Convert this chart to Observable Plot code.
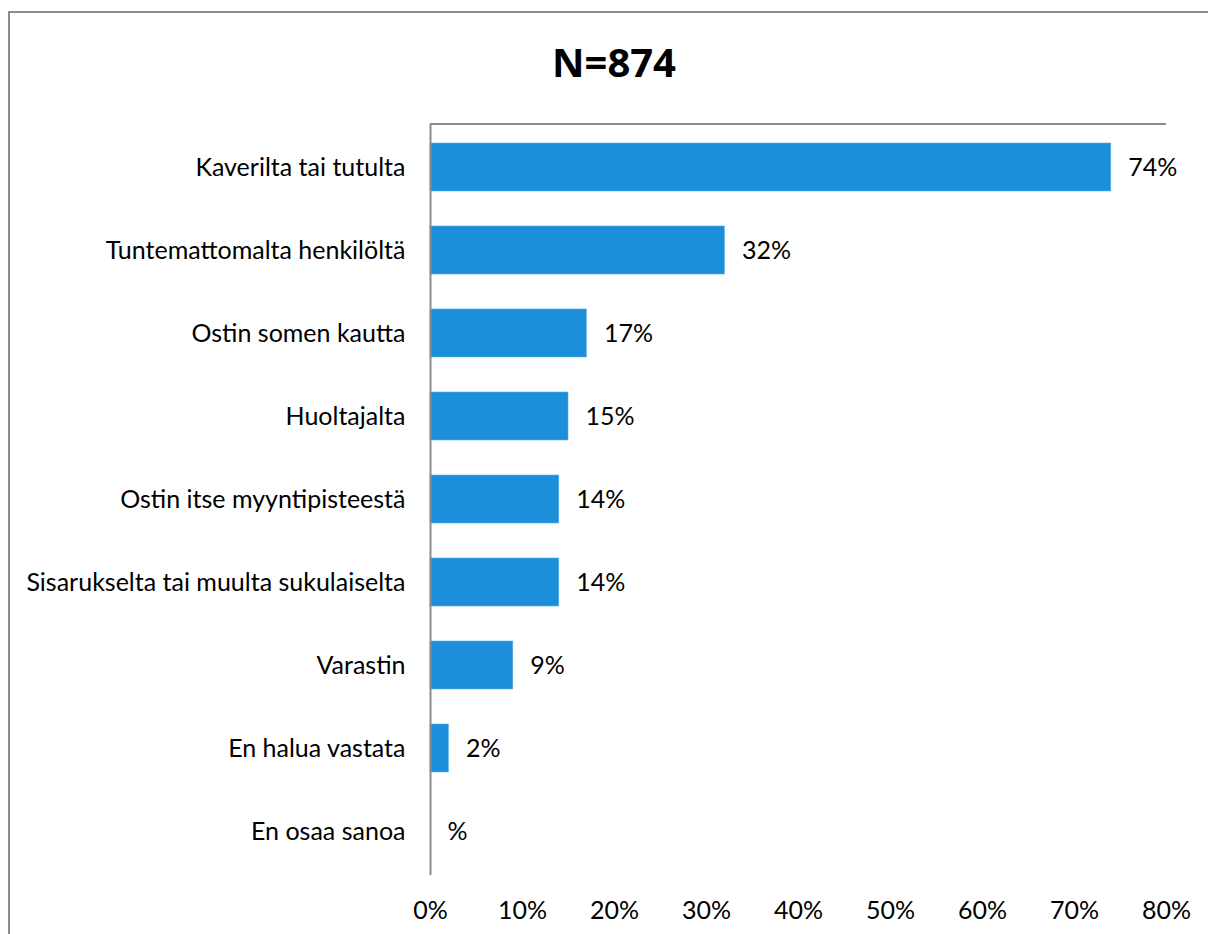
<!DOCTYPE html>
<html>
<head>
<meta charset="utf-8">
<script src="https://cdn.jsdelivr.net/npm/d3@7"></script>
<script src="https://cdn.jsdelivr.net/npm/@observablehq/plot@0.6"></script>
<style>
  html, body { margin: 0; padding: 0; background: #fff; }
  #wrap { position: relative; width: 1208px; height: 934px; overflow: hidden; font-family: Lato, "Open Sans", sans-serif; }
  #border { position: absolute; left: 8px; top: 11px; width: 1300px; height: 1000px; border-left: 2px solid #8c8c8c; border-top: 2px solid #8c8c8c; }
  #title { position: absolute; left: 0; top: 22px; width: 1228px; height: 80px; text-align: center; font-family: "Open Sans", sans-serif; font-weight: bold; font-size: 40px; line-height: 80px; color: #000; }
  #chart { position: absolute; left: 0; top: 100px; }
</style>
</head>
<body>
<div id="wrap">
  <div id="border"></div>
  <div id="title">N=874</div>
  <div id="chart"></div>
</div>
<script>
const categories = [
  "Kaverilta tai tutulta",
  "Tuntemattomalta henkilöltä",
  "Ostin somen kautta",
  "Huoltajalta",
  "Ostin itse myyntipisteestä",
  "Sisarukselta tai muulta sukulaiselta",
  "Varastin",
  "En halua vastata",
  "En osaa sanoa"
];
const values = [74, 32, 17, 15, 14, 14, 9, 2, null];
const xTicks = [0, 10, 20, 30, 40, 50, 60, 70, 80];

const data = categories.map((c, i) => ({ category: c, value: values[i], label: (values[i] ?? "") + "%" }));

const plot = Plot.plot({
  width: 1208,
  height: 834,
  marginTop: 24,
  marginLeft: 430,
  marginRight: 42,
  marginBottom: 59,
  style: { fontFamily: "Lato, 'Open Sans', sans-serif", fontSize: "25px", color: "#000", background: "transparent" },
  x: { domain: [0, 80], ticks: xTicks, tickFormat: d => d + "%", tickSize: 0, tickPadding: 26, label: null },
  y: { domain: categories, paddingInner: 0.42, paddingOuter: 0.21, tickSize: 0, tickPadding: 25, label: null },
  marks: [
    Plot.barX(data, { x: "value", y: "category", fill: "#1b8fd9", stroke: "#5fb0e6", strokeWidth: 0.6 }),
    Plot.text(data, { x: d => d.value ?? 0, y: "category", text: "label", textAnchor: "start", dx: 17, fill: "#000", fontSize: 25 }),
    Plot.ruleX([0], { stroke: "#8c8c8c", strokeWidth: 2 }),
    (index, scales, values, dims) => {
      const line = d3.create("svg:line")
        .attr("x1", scales.x(0))
        .attr("x2", scales.x(80))
        .attr("y1", dims.marginTop)
        .attr("y2", dims.marginTop)
        .attr("stroke", "#8c8c8c")
        .attr("stroke-width", 2);
      return line.node();
    }
  ]
});
document.getElementById("chart").appendChild(plot);
</script>
</body>
</html>
